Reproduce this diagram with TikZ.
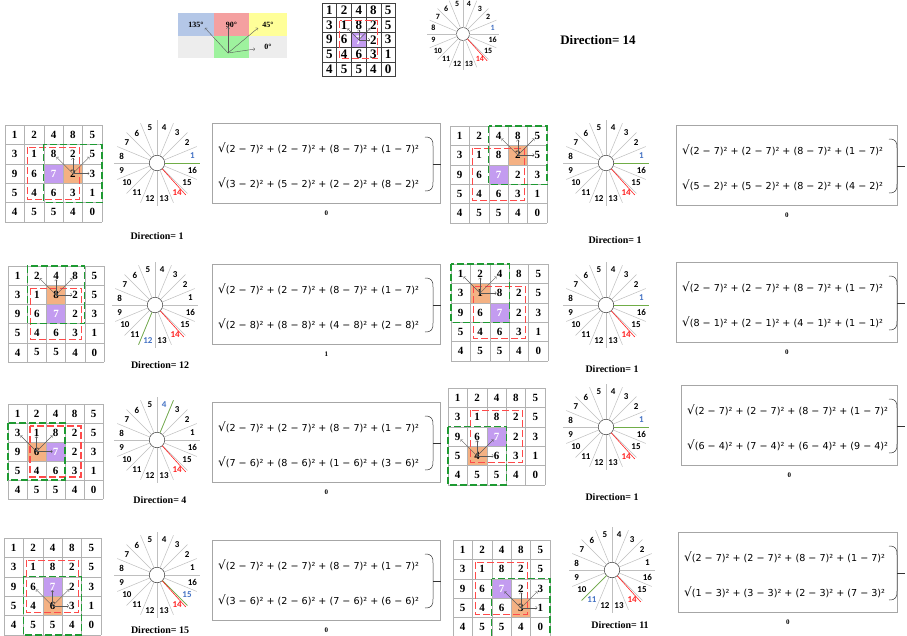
\documentclass[tikz,border=0pt]{standalone}
\usepackage{fontspec}
\setmainfont{Liberation Serif}
\newfontfamily\lblfont{Carlito}
\newfontfamily\eqfont{DejaVu Sans}
\usetikzlibrary{calc,positioning}

\definecolor{cellpurple}{HTML}{C39CF0}
\definecolor{cellorange}{HTML}{F4B183}
\definecolor{boxred}{HTML}{FF4A4A}
\definecolor{boxgreen}{HTML}{1E9A32}
\definecolor{lblblue}{HTML}{4472C4}
\definecolor{lblred}{HTML}{FF2020}
\definecolor{spkgreen}{HTML}{70AD47}
\definecolor{leg135}{HTML}{B4C7E7}
\definecolor{leg90}{HTML}{F4A0A0}
\definecolor{leg45}{HTML}{FFFF99}
\definecolor{leg0}{HTML}{EDEDED}
\definecolor{legmid}{HTML}{9EF29E}

\tikzset{
  cellnum/.style={inner sep=0pt},
  redbox/.style={draw=boxred, dash pattern=on 7pt off 3pt, line width=1.1pt},
  greenbox/.style={draw=boxgreen, dash pattern=on 7pt off 3pt, line width=1.2pt},
  nbarrow/.style={->, draw=gray!70!black, line width=0.4pt},
  hub/.style={circle, draw=black!80, fill=white, inner sep=0pt, line width=0.5pt},
  spoke/.style={draw=gray!50, line width=0.5pt},
  dirspoke/.style={draw=spkgreen, line width=0.7pt},
  redspoke/.style={draw=lblred, line width=0.6pt},
  dirlbl/.style={inner sep=0pt},
  dirtitle/.style={font=\fontsize{10}{10}\selectfont\bfseries},
  eqbox/.style={draw=gray!70, line width=0.6pt, inner sep=0pt},
  eqtext/.style={font=\eqfont\fontsize{9.6}{12}\selectfont, anchor=west, inner sep=0pt},
  eqbrace/.style={draw=black!80, line width=0.5pt},
  result/.style={font=\fontsize{7}{7}\selectfont\bfseries},
  legcell/.style={inner sep=0pt, font=\fontsize{8}{8}\selectfont\bfseries},
}

% 5x5 window: name, x, y, cell size, row/col of the neighbour, digit size, line colour
\newcommand{\lbpgrid}[8]{%
  \fill[cellorange] ({#2+#6*#4},{#3+#5*#4}) rectangle ++(#4,#4);
  \fill[cellpurple] ({#2+2*#4},{#3+2*#4}) rectangle ++(#4,#4);
  \foreach \i in {0,...,5} {
    \draw[#8, line width=0.5pt] ({#2+\i*#4},#3) -- ++(0,{5*#4});
    \draw[#8, line width=0.5pt] (#2,{#3+\i*#4}) -- ++({5*#4},0);
  }
  \foreach \row [count=\rr from 0] in {{1,2,4,8,5},{3,1,8,2,5},{9,6,7,2,3},{5,4,6,3,1},{4,5,5,4,0}} {
    \foreach \v [count=\cc from 0] in \row {
      \ifnum\rr\cc=22 \def\tcol{white}\else\def\tcol{black}\fi
      \node[cellnum, text=\tcol, font=\fontsize{#7}{#7}\selectfont\bfseries] (#1-\rr-\cc) at ({#2+(\cc+0.5)*#4},{#3+(\rr+0.5)*#4}) {\v};
    }
  }
  \draw[redbox] ({#2+#4+3},{#3+#4+3}) rectangle ({#2+4*#4-3},{#3+4*#4-3});
  \ifnum#5#6=22 \else
    \draw[greenbox] ({#2+(#6-1)*#4},{#3+(#5-1)*#4}) rectangle ({#2+(#6+2)*#4},{#3+(#5+2)*#4});
  \fi
  \pgfmathtruncatemacro{\nup}{#5-1}
  \pgfmathtruncatemacro{\nlf}{#6-1}
  \pgfmathtruncatemacro{\nrt}{#6+1}
  \draw[nbarrow] (#1-#5-#6.center) -- (#1-\nup-\nlf);
  \draw[nbarrow] (#1-#5-#6.center) -- (#1-\nup-#6);
  \draw[nbarrow] (#1-#5-#6.center) -- (#1-\nup-\nrt);
  \draw[nbarrow] (#1-#5-#6.center) -- (#1-#5-\nrt);
}

% compass: name, centre x, centre y, direction, radius, label size, style of the chosen spoke
\newcommand{\lbpcompass}[7]{%
  \node[hub, minimum size={0.36*#5}] (#1-c) at (#2,#3) {};
  \foreach \k in {1,...,16} {
    \pgfmathsetmacro{\sa}{(\k-1)*22.5}
    \pgfmathsetmacro{\la}{(\k-1)*22.5+11.25}
    \draw[spoke] ($(#1-c)+(-\sa:{0.18*#5})$) -- ($(#1-c)+(-\sa:#5)$);
    \ifnum\k=#4 \def\lcol{lblblue}\else\ifnum\k=14 \def\lcol{lblred}\else\def\lcol{black}\fi\fi
    \node[dirlbl, text=\lcol, font=\lblfont\fontsize{#6}{#6}\selectfont\bfseries] (#1-l\k) at ($(#1-c)+(-\la:{0.84*#5})$) {\k};
  }
  \pgfmathsetmacro{\da}{(#4-1)*22.5}
  \draw[#7] ($(#1-c)+(-\da:{0.18*#5})$) -- ($(#1-c)+(-\da:#5)$);
  \draw[redspoke] ($(#1-c)+(48:{0.18*#5})$) -- ($(#1-c)+(48:#5)$);
}

% distance box: name, x, y, width, second root, result, x of the brace
\newcommand{\lbpeq}[7]{%
  \node[eqbox, minimum width=#4, minimum height=80, anchor=north west] (#1-box) at (#2,#3) {};
  \node[eqtext] (#1-a) at ($(#1-box.north west)+(6,25)$) {{\fontsize{12}{12}\selectfont √}(2 − 7)² + (2 − 7)² + (8 − 7)² + (1 − 7)²};
  \node[eqtext] (#1-b) at ($(#1-box.north west)+(6,60)$) {{\fontsize{12}{12}\selectfont √}#5};
  \coordinate (#1-bt) at (#7,{#3+14});
  \coordinate (#1-bb) at (#7,{#3+68});
  \coordinate (#1-bm) at ({#7+8},{#3+41});
  \draw[eqbrace] (#1-bt) .. controls +(7,0) and +(0,-6) .. ($(#1-bt)+(8,9)$) -- ($(#1-bb)+(8,-9)$) .. controls +(0,6) and +(7,0) .. (#1-bb);
  \draw[eqbrace] (#1-bm) -- ++(8,0);
  \node[result] (#1-res) at ($(#1-box.south)+(0,10)$) {#6};
}

\begin{document}
\begin{tikzpicture}[x=1pt, y=-1pt]
\fill[white] (0,0) rectangle (907,635);
\useasboundingbox (0,0) rectangle (907,635);

% legend of the four angles
\node[legcell, fill=leg135, minimum width=36, minimum height=23] (leg-135) at (196,24.5) {135°};
\node[legcell, fill=leg90, minimum width=35, minimum height=23] (leg-90) at (231.5,24.5) {90°};
\node[legcell, fill=leg45, minimum width=38, minimum height=23] (leg-45) at (268,24.5) {45°};
\node[legcell, fill=leg0, minimum width=36, minimum height=22] (leg-e) at (196,46.5) {};
\node[legcell, fill=legmid, minimum width=35, minimum height=22] (leg-m) at (231.5,46.5) {};
\node[legcell, fill=leg0, minimum width=38, minimum height=22] (leg-0) at (268,46.5) {0°};
\coordinate (leg-o) at (228,53);
\coordinate (leg-t135) at (205,28);
\coordinate (leg-t90) at (228,27);
\coordinate (leg-t45) at (258,28);
\coordinate (leg-t0) at (255,49);
\foreach \t in {135,90,45,0}
  \draw[nbarrow] (leg-o) -- (leg-t\t);

% top window and compass
\lbpgrid{top}{322}{3}{14.7}{2}{2}{13}{black!75}
\lbpcompass{topc}{463}{34}{1}{36}{8}{spoke}
\node[font=\fontsize{13}{13}\selectfont\bfseries] (top-dir) at (598,40) {Direction= 14};

% left column
\lbpgrid{l1}{5}{125}{19.4}{2}{3}{11}{gray!60}
\lbpcompass{l1c}{157}{163}{1}{43}{9}{dirspoke}
\node[dirtitle] (l1-dir) at (157,236) {Direction= 1};
\lbpeq{l1e}{212}{123}{228}{(3 − 2)² + (5 − 2)² + (2 − 2)² + (8 − 2)²}{0}{425}

\lbpgrid{l2}{8}{266}{19.2}{1}{2}{11}{gray!60}
\lbpcompass{l2c}{155}{305}{12}{43}{9}{dirspoke}
\node[dirtitle] (l2-dir) at (160,365) {Direction= 12};
\lbpeq{l2e}{212}{264}{228}{(2 − 8)² + (8 − 8)² + (4 − 8)² + (2 − 8)²}{1}{425}

\lbpgrid{l3}{8}{404}{19}{2}{1}{11}{gray!60}
\lbpcompass{l3c}{157}{440}{4}{43}{9}{dirspoke}
\node[dirtitle] (l3-dir) at (160,500) {Direction= 4};
\lbpeq{l3e}{212}{402}{228}{(7 − 6)² + (8 − 6)² + (1 − 6)² + (3 − 6)²}{0}{425}

\lbpgrid{l4}{4}{538}{19.4}{3}{2}{11}{gray!60}
\lbpcompass{l4c}{157}{575}{15}{43}{9}{dirspoke}
\node[dirtitle] (l4-dir) at (160,630) {Direction= 15};
\lbpeq{l4e}{212}{540}{228}{(3 − 6)² + (2 − 6)² + (7 − 6)² + (6 − 6)²}{0}{425}

% right column
\lbpgrid{r1}{450}{126}{19.4}{1}{3}{11}{gray!60}
\lbpcompass{r1c}{606}{163}{1}{43}{9}{dirspoke}
\node[dirtitle] (r1-dir) at (615,240) {Direction= 1};
\lbpeq{r1e}{676}{125}{221}{(5 − 2)² + (5 − 2)² + (8 − 2)² + (4 − 2)²}{0}{889}

\lbpgrid{r2}{451}{264}{19.4}{1}{1}{11}{gray!60}
\lbpcompass{r2c}{606}{305}{1}{43}{9}{dirspoke}
\node[dirtitle] (r2-dir) at (612,369) {Direction= 1};
\lbpeq{r2e}{676}{262}{221}{(8 − 1)² + (2 − 1)² + (4 − 1)² + (1 − 1)²}{0}{889}

\lbpgrid{r3}{448}{388}{19.4}{3}{1}{11}{gray!60}
\lbpcompass{r3c}{606}{427}{1}{43}{9}{dirspoke}
\node[dirtitle] (r3-dir) at (612,497) {Direction= 1};
\lbpeq{r3e}{681}{385}{216}{(6 − 4)² + (7 − 4)² + (6 − 4)² + (9 − 4)²}{0}{889}

\lbpgrid{r4}{453}{540}{19.4}{3}{3}{11}{gray!60}
\lbpcompass{r4c}{612}{570}{11}{43}{9}{dirspoke}
\node[dirtitle] (r4-dir) at (620,625) {Direction= 11};
\lbpeq{r4e}{678}{532}{219}{(1 − 3)² + (3 − 3)² + (2 − 3)² + (7 − 3)²}{0}{889}
\end{tikzpicture}
\end{document}
